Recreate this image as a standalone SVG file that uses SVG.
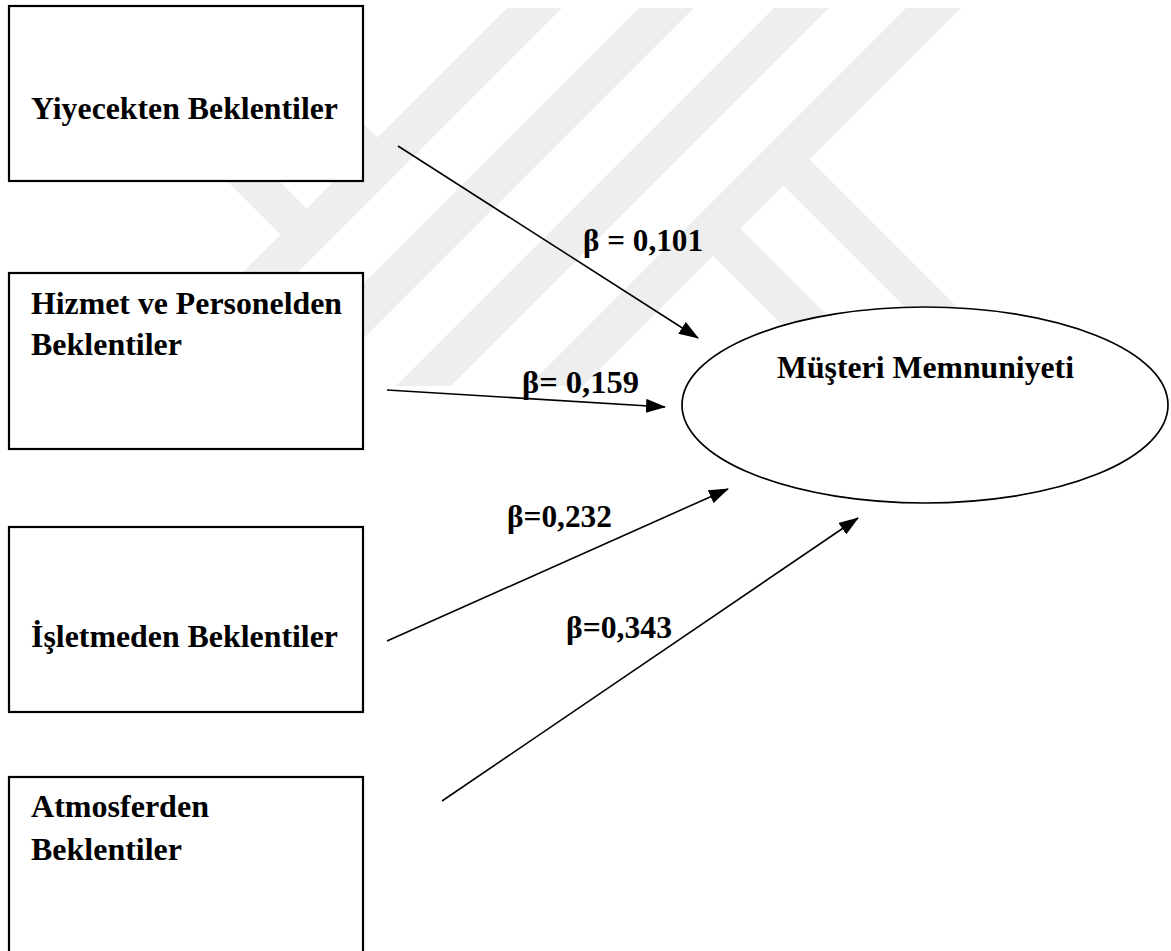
<svg xmlns="http://www.w3.org/2000/svg" width="1171" height="951" viewBox="0 0 1171 951">
<style>
.wm{fill:#eeeeee;stroke:none}
.box{fill:#ffffff;stroke:#000;stroke-width:2.2}
.ell{fill:#ffffff;stroke:#000;stroke-width:1.7}
.t{font-family:"Liberation Serif","Times New Roman",serif;font-weight:bold;font-size:31px;fill:#000}
.c{stroke:#000;stroke-width:1.6;fill:none;marker-end:url(#ah)}
</style>
<defs>
<marker id="ah" markerUnits="userSpaceOnUse" markerWidth="20" markerHeight="14" refX="19" refY="7" orient="auto">
<path d="M0,0 L20,7 L0,14 z" fill="#000"/>
</marker>
</defs>
<rect width="1171" height="951" fill="#fff"/>
<g id="watermark">
<polygon class="wm" points="507,8 562,8 184,386 129,386"/>
<polygon class="wm" points="639,8 694,8 316,386 261,386"/>
<polygon class="wm" points="774,8 829,8 451,386 396,386"/>
<polygon class="wm" points="906,8 961,8 583,386 528,386"/>
<polygon class="wm" points="283,237 309,211 106,8 54,8"/>
<polygon class="wm" points="352,168 380,140 247,8 192,8"/>
<polygon class="wm" points="781,183 807,157 1036,386 984,386"/>
<polygon class="wm" points="710,253 738,226 898,386 843,386"/>
</g>
<g id="node-yiyecek">
<rect class="box" x="9" y="6" width="354" height="175"/>
<text class="t" x="31" y="119" textLength="307" lengthAdjust="spacingAndGlyphs">Yiyecekten Beklentiler</text>
</g>
<g id="node-hizmet">
<rect class="box" x="9" y="273" width="354" height="176"/>
<text class="t" x="31" y="314" textLength="311" lengthAdjust="spacingAndGlyphs">Hizmet ve Personelden</text>
<text class="t" x="31" y="355" textLength="151" lengthAdjust="spacingAndGlyphs">Beklentiler</text>
</g>
<g id="node-isletme">
<rect class="box" x="9" y="527" width="354" height="185"/>
<text class="t" x="31" y="647" textLength="307" lengthAdjust="spacingAndGlyphs">İşletmeden Beklentiler</text>
</g>
<g id="node-atmosfer">
<rect class="box" x="9" y="777" width="354" height="200"/>
<text class="t" x="31" y="817" textLength="178" lengthAdjust="spacingAndGlyphs">Atmosferden</text>
<text class="t" x="31" y="860" textLength="151" lengthAdjust="spacingAndGlyphs">Beklentiler</text>
</g>
<g id="node-memnuniyet">
<ellipse class="ell" cx="925" cy="405" rx="243" ry="98"/>
<text class="t" x="777" y="378" textLength="297" lengthAdjust="spacingAndGlyphs">Müşteri Memnuniyeti</text>
</g>
<g id="connectors">
<line class="c" x1="398" y1="146" x2="698" y2="338"/>
<line class="c" x1="387" y1="390" x2="665" y2="407"/>
<line class="c" x1="387" y1="641" x2="728" y2="489"/>
<line class="c" x1="442" y1="801" x2="858" y2="518"/>
</g>
<g id="labels">
<text class="t" x="583" y="251" textLength="120" lengthAdjust="spacingAndGlyphs">β = 0,101</text>
<text class="t" x="522" y="393" textLength="117" lengthAdjust="spacingAndGlyphs">β= 0,159</text>
<text class="t" x="507" y="527" textLength="105" lengthAdjust="spacingAndGlyphs">β=0,232</text>
<text class="t" x="566" y="638" textLength="106" lengthAdjust="spacingAndGlyphs">β=0,343</text>
</g>
</svg>
